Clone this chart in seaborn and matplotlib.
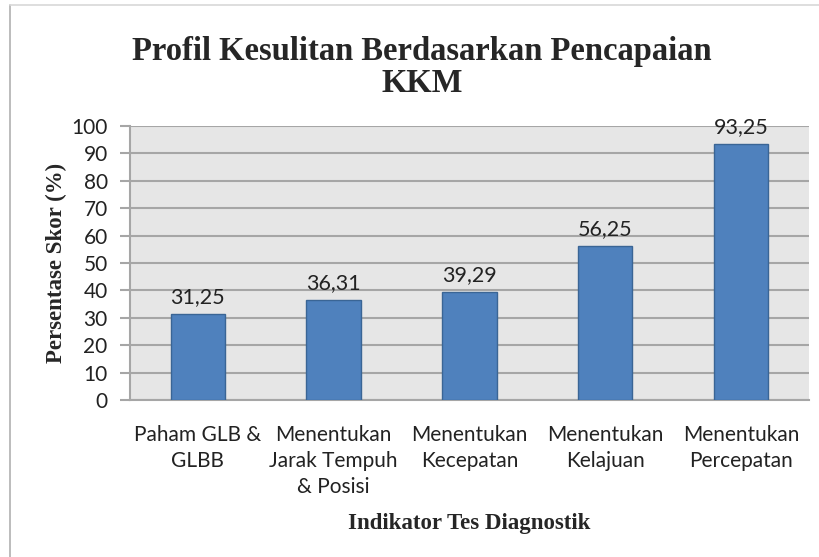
import pandas as pd
import matplotlib.pyplot as plt
import matplotlib.lines as mlines
import seaborn as sns

categories = [
    "Paham GLB &\nGLBB",
    "Menentukan\nJarak Tempuh\n& Posisi",
    "Menentukan\nKecepatan",
    "Menentukan\nKelajuan",
    "Menentukan\nPercepatan",
]
scores = [31.25, 36.31, 39.29, 56.25, 93.25]
y_ticks = [0, 10, 20, 30, 40, 50, 60, 70, 80, 90, 100]

df = pd.DataFrame({"indikator": categories, "skor": scores})

sns.set_style("white")
plt.rcParams["font.family"] = ["Lato", "DejaVu Sans"]

fig = plt.figure(figsize=(8.2, 5.57), dpi=100)
ax = fig.add_axes([0.1585, 0.2819, 0.828, 0.4919])
ax.set_facecolor("#e6e6e6")

sns.barplot(
    data=df,
    x="indikator",
    y="skor",
    color="#4f81bd",
    edgecolor="#3a6595",
    linewidth=1,
    width=0.4,
    saturation=1,
    ax=ax,
    zorder=3,
)

ax.set_ylim(0, 100)
ax.set_yticks(y_ticks)
ax.set_xlim(-0.5, len(categories) - 0.5)
ax.grid(axis="y", color="#a6a6a6", linewidth=1.5, zorder=0)
ax.set_axisbelow(True)

for s in ["top", "right"]:
    ax.spines[s].set_visible(False)
for s in ["left", "bottom"]:
    ax.spines[s].set_color("#a6a6a6")
    ax.spines[s].set_linewidth(1.5)

ax.tick_params(axis="y", direction="out", length=7, width=1.5, color="#a6a6a6",
               labelsize=15, labelcolor="#222222", pad=9, left=True)
ax.tick_params(axis="x", length=0, labelsize=15, labelcolor="#222222", pad=18)
for lbl in ax.get_xticklabels():
    lbl.set_linespacing(1.38)
    lbl.set_verticalalignment("top")

for i, v in enumerate(scores):
    ax.annotate(f"{v:.2f}".replace(".", ","), (i, v), xytext=(0, 5),
                textcoords="offset points", ha="center", va="bottom",
                fontsize=15.5, color="#222222")

ax.set_ylabel("Persentase Skor (%)", family="Liberation Serif", fontweight="bold",
              fontsize=16.5, labelpad=3)
ax.set_xlabel("")
fig.text(0.572, 0.061, "Indikator Tes Diagnostik", family="Liberation Serif",
         fontweight="bold", fontsize=16.5, ha="center", va="center")

fig.text(0.515, 0.879, "Profil Kesulitan Berdasarkan Pencapaian\nKKM",
         family="Liberation Serif", fontweight="bold", fontsize=23.5,
         ha="center", va="center", linespacing=1.05)

# outer frame lines (left and top)
fig.add_artist(mlines.Line2D([10 / 820, 10 / 820], [0, 1 - 5 / 557],
                             color="#b0b0b0", linewidth=1.2))
fig.add_artist(mlines.Line2D([10 / 820, 1], [1 - 5 / 557, 1 - 5 / 557],
                             color="#d8d8d8", linewidth=1.2))

fig.savefig("out.png", dpi=100, facecolor="white")
